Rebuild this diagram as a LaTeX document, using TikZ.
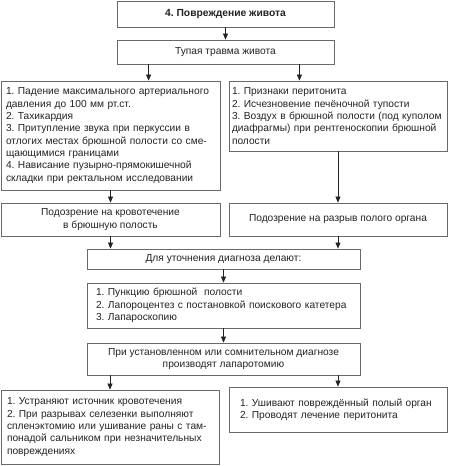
\documentclass[tikz,border=0pt]{standalone}
\usepackage{fontspec}
\setmainfont{Liberation Sans}
\usetikzlibrary{arrows.meta}
\definecolor{boxline}{RGB}{105,105,105}
\definecolor{txt}{RGB}{35,35,35}
\frenchspacing
\begin{document}
\begin{tikzpicture}[x=1pt,y=-1pt,
  box/.style={draw=boxline, line width=0.8pt, inner sep=0pt, text=txt,
    font=\fontsize{10.2}{12.3}\selectfont\frenchspacing, align=center},
  lbox/.style={box, align=left},
  arr/.style={draw=txt, line width=0.7pt, -{Triangle[length=6pt,width=5pt]}}]
\useasboundingbox (0,0) rectangle (450,466);
\node[box, minimum width=217pt, minimum height=26pt, font=\fontsize{10.3}{12.3}\selectfont\bfseries\frenchspacing] (A) at (225.5,14) {4. Повреждение живота};
\node[box, minimum width=217pt, minimum height=24pt] (B) at (225.5,52) {Тупая травма живота};
\node[lbox, inner xsep=5pt, text width=209pt, minimum height=109pt] (C) at (110.5,135.5) {1. Падение максимального артериального\\давления до 100 мм рт.ст.\\2. Тахикардия\\3. Притупление звука при перкуссии в\\отлогих местах брюшной полости со сме-\\щающимися границами\\4. Нависание пузырно-прямокишечной\\складки при ректальном исследовании};
\node[lbox, inner xsep=3pt, text width=212pt, minimum height=70pt] (D) at (338,116) {1. Признаки перитонита\\2. Исчезновение печёночной тупости\\3. Воздух в брюшной полости (под куполом\\диафрагмы) при рентгеноскопии брюшной\\полости};
\node[box, minimum width=219pt, minimum height=33pt] (E) at (110.5,219.5) {Подозрение на кровотечение\\в брюшную полость};
\node[box, minimum width=218pt, minimum height=33pt] (F) at (338,219.5) {Подозрение на разрыв полого органа};
\node[box, minimum width=273pt, minimum height=20pt] (G) at (223.5,259) {Для уточнения диагноза делают:};
\node[lbox, inner xsep=9pt, text width=255pt, minimum height=45pt] (H) at (223.5,305.5) {1. Пункцию брюшной\ \ полости\\2. Лапороцентез с постановкой поискового катетера\\3. Лапароскопию};
\node[box, minimum width=273pt, minimum height=32pt] (I) at (223.5,359) {При установленном или сомнительном диагнозе\\производят лапаротомию};
\node[lbox, inner xsep=6pt, text width=206pt, minimum height=74pt] (J) at (110,427) {1. Устраняют источник кровотечения\\2. При разрывах селезенки выполняют\\спленэктомию или ушивание раны с там-\\понадой сальником при незначительных\\повреждениях};
\node[lbox, inner xsep=11pt, text width=196pt, minimum height=45pt] (K) at (338,409.5) {1. Ушивают повреждённый полый орган\\2. Проводят лечение перитонита};
\coordinate (b1) at ([xshift=32pt]B.south west);
\coordinate (b2) at ([xshift=-35pt]B.south east);
\draw[arr] (A.south) -- (B.north);
\draw[arr] (b1) -- (b1 |- C.north);
\draw[arr] (b2) -- (b2 |- D.north);
\draw[arr] (C.south) -- (E.north);
\draw[arr] (D.south) -- (F.north);
\draw[arr] (E.south) -- (E.south |- G.north);
\draw[arr] (F.south) -- (F.south |- G.north);
\draw[arr] (G.south) -- (H.north);
\draw[arr] (H.south) -- (I.north);
\draw[arr] (J.north |- I.south) -- (J.north);
\draw[arr] (K.north |- I.south) -- (K.north);
\end{tikzpicture}
\end{document}
